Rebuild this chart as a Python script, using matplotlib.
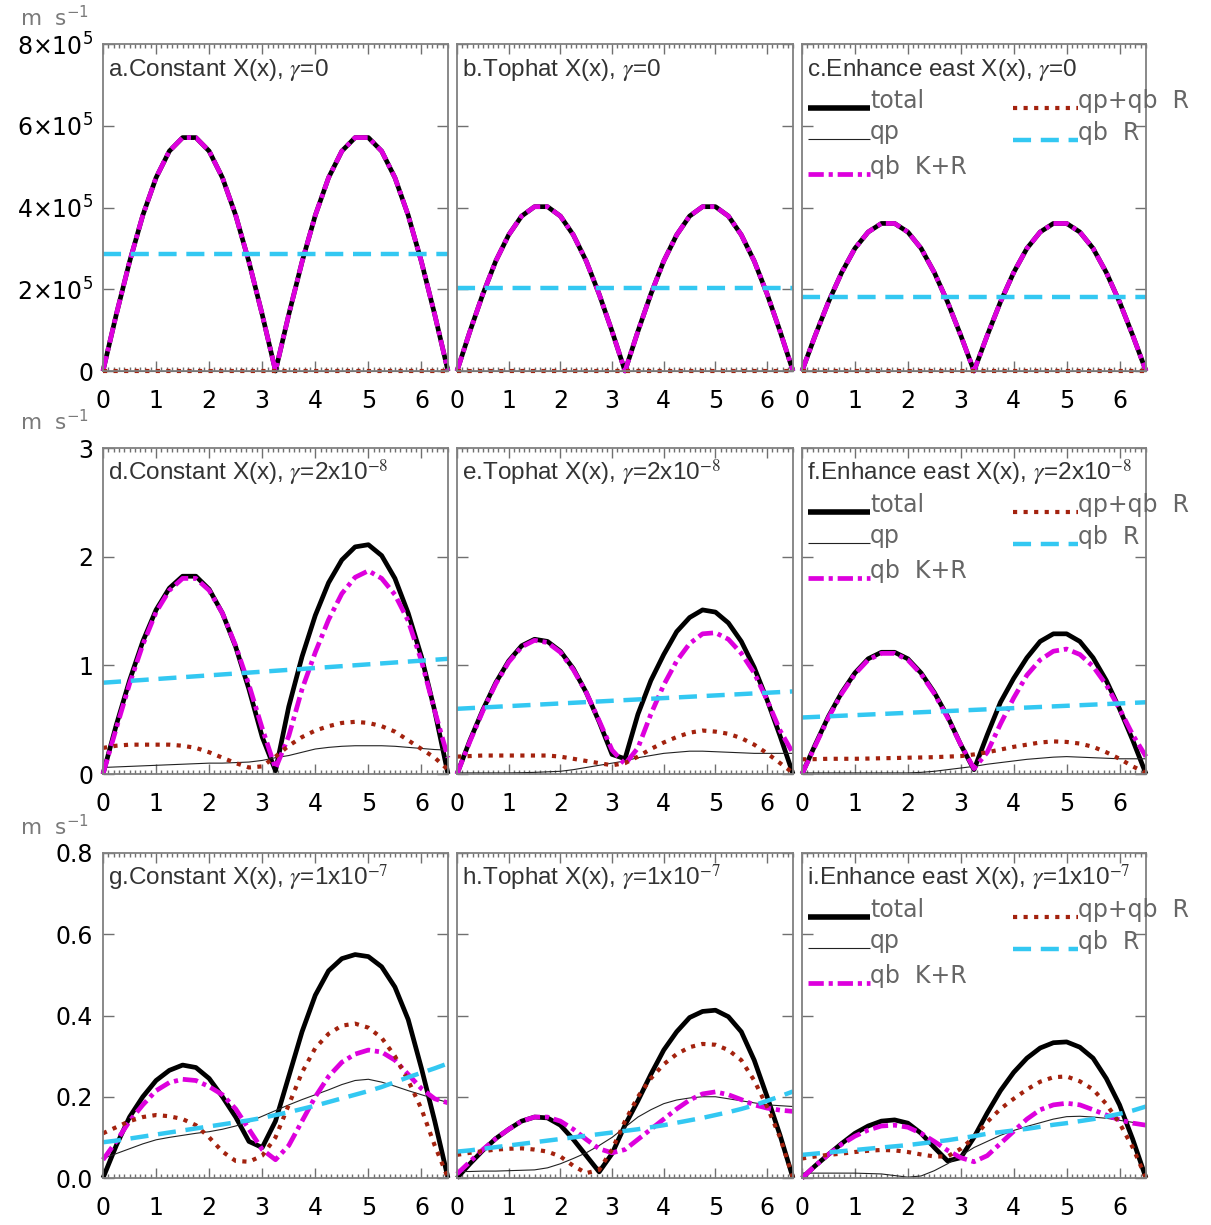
import numpy as np
import matplotlib
matplotlib.use('Agg')
import matplotlib.pyplot as plt
from matplotlib.ticker import MultipleLocator

plt.rcParams['lines.scale_dashes'] = False
plt.rcParams['font.family'] = ['DejaVu Sans']

# ---------------- data ----------------
X = np.linspace(0.0, 6.5, 27)          # sample positions (step 0.25)
X_ENDS = [0.0, 6.5]                    # straight lines: two end points
TOP_SCALE = 1e5                        # row 1 values are in units of 1e5 m/s

# row 1 : gamma = 0   (units 1e5 m s-1)
a_total = [0, 1.38, 2.67, 3.81, 4.73, 5.38, 5.71, 5.71, 5.38, 4.73, 3.81, 2.67, 1.38, 0,
           1.38, 2.67, 3.81, 4.73, 5.38, 5.71, 5.71, 5.38, 4.73, 3.81, 2.67, 1.38, 0]
a_qbKR = [0, 1.38, 2.67, 3.81, 4.73, 5.38, 5.71, 5.71, 5.38, 4.73, 3.81, 2.67, 1.38, 0,
          1.38, 2.67, 3.81, 4.73, 5.38, 5.71, 5.71, 5.38, 4.73, 3.81, 2.67, 1.38, 0]
a_qp = [0.0, 0.0]
a_dot = [0.0, 0.0]
a_qbR = [2.87, 2.87]

b_total = [0, 0.97, 1.88, 2.69, 3.33, 3.79, 4.02, 4.02, 3.79, 3.33, 2.69, 1.88, 0.97, 0,
           0.97, 1.88, 2.69, 3.33, 3.79, 4.02, 4.02, 3.79, 3.33, 2.69, 1.88, 0.97, 0]
b_qbKR = [0, 0.97, 1.88, 2.69, 3.33, 3.79, 4.02, 4.02, 3.79, 3.33, 2.69, 1.88, 0.97, 0,
          0.97, 1.88, 2.69, 3.33, 3.79, 4.02, 4.02, 3.79, 3.33, 2.69, 1.88, 0.97, 0]
b_qp = [0.0, 0.0]
b_dot = [0.0, 0.0]
b_qbR = [2.02, 2.02]

c_total = [0, 0.87, 1.69, 2.41, 3.00, 3.40, 3.61, 3.61, 3.40, 3.00, 2.41, 1.69, 0.87, 0,
           0.87, 1.69, 2.41, 3.00, 3.40, 3.61, 3.61, 3.40, 3.00, 2.41, 1.69, 0.87, 0]
c_qbKR = [0, 0.87, 1.69, 2.41, 3.00, 3.40, 3.61, 3.61, 3.40, 3.00, 2.41, 1.69, 0.87, 0,
          0.87, 1.69, 2.41, 3.00, 3.40, 3.61, 3.61, 3.40, 3.00, 2.41, 1.69, 0.87, 0]
c_qp = [0.0, 0.0]
c_dot = [0.0, 0.0]
c_qbR = [1.81, 1.81]

# row 2 : gamma = 2e-8  (m s-1)
d_total = [0, 0.45, 0.86, 1.22, 1.51, 1.71, 1.82, 1.82, 1.70, 1.48, 1.17, 0.78, 0.34, 0.03,
           0.62, 1.08, 1.46, 1.76, 1.97, 2.09, 2.11, 2.01, 1.80, 1.48, 1.08, 0.58, 0.0]
d_qbKR = [0, 0.42, 0.83, 1.19, 1.49, 1.69, 1.80, 1.80, 1.69, 1.48, 1.18, 0.82, 0.42, 0.05,
          0.35, 0.78, 1.12, 1.42, 1.66, 1.81, 1.87, 1.80, 1.65, 1.41, 1.04, 0.58, 0.15]
d_qp = [0.06, 0.065, 0.07, 0.075, 0.08, 0.085, 0.09, 0.095, 0.10, 0.10, 0.105, 0.11, 0.125, 0.15,
        0.17, 0.20, 0.23, 0.245, 0.255, 0.26, 0.26, 0.26, 0.255, 0.245, 0.235, 0.225, 0.22]
d_dot = [0.24, 0.26, 0.27, 0.27, 0.27, 0.27, 0.26, 0.24, 0.20, 0.15, 0.10, 0.06, 0.07, 0.16,
         0.26, 0.34, 0.40, 0.44, 0.47, 0.48, 0.47, 0.44, 0.39, 0.31, 0.23, 0.15, 0.04]
d_qbR = [0.84, 1.06]

e_total = [0, 0.31, 0.59, 0.84, 1.04, 1.18, 1.24, 1.22, 1.13, 0.97, 0.75, 0.48, 0.18, 0.14,
           0.55, 0.86, 1.10, 1.31, 1.44, 1.51, 1.49, 1.39, 1.22, 0.98, 0.68, 0.35, 0.0]
e_qbKR = [0, 0.30, 0.58, 0.83, 1.03, 1.17, 1.23, 1.21, 1.12, 0.96, 0.75, 0.49, 0.22, 0.09,
          0.24, 0.55, 0.82, 1.04, 1.20, 1.29, 1.30, 1.24, 1.11, 0.93, 0.68, 0.40, 0.19]
e_qp = [0.01, 0.01, 0.01, 0.01, 0.01, 0.012, 0.015, 0.02, 0.025, 0.04, 0.06, 0.08, 0.10, 0.12,
        0.15, 0.17, 0.19, 0.20, 0.21, 0.21, 0.205, 0.20, 0.195, 0.19, 0.19, 0.19, 0.19]
e_dot = [0.16, 0.165, 0.17, 0.17, 0.17, 0.17, 0.17, 0.17, 0.16, 0.14, 0.12, 0.10, 0.08, 0.10,
         0.16, 0.23, 0.29, 0.34, 0.38, 0.40, 0.39, 0.37, 0.33, 0.27, 0.19, 0.10, 0.01]
e_qbR = [0.60, 0.76]

f_total = [0, 0.27, 0.53, 0.75, 0.93, 1.06, 1.12, 1.12, 1.06, 0.93, 0.75, 0.53, 0.27, 0.04,
           0.36, 0.66, 0.88, 1.07, 1.22, 1.29, 1.29, 1.22, 1.07, 0.86, 0.60, 0.31, 0.0]
f_qbKR = [0, 0.26, 0.52, 0.74, 0.92, 1.05, 1.11, 1.11, 1.05, 0.92, 0.74, 0.52, 0.27, 0.05,
          0.20, 0.46, 0.70, 0.91, 1.05, 1.13, 1.15, 1.10, 0.99, 0.82, 0.60, 0.36, 0.16]
f_qp = [0.01, 0.01, 0.01, 0.01, 0.01, 0.01, 0.01, 0.01, 0.01, 0.015, 0.025, 0.04, 0.055, 0.07,
        0.09, 0.105, 0.12, 0.135, 0.145, 0.155, 0.16, 0.155, 0.15, 0.145, 0.14, 0.14, 0.14]
f_dot = [0.135, 0.137, 0.14, 0.14, 0.14, 0.142, 0.145, 0.147, 0.15, 0.152, 0.155, 0.16, 0.165, 0.18,
         0.20, 0.225, 0.25, 0.27, 0.29, 0.30, 0.295, 0.28, 0.25, 0.20, 0.14, 0.07, 0.01]
f_qbR = [0.52, 0.66]

# row 3 : gamma = 1e-7  (m s-1)
g_total = [0, 0.08, 0.15, 0.20, 0.24, 0.265, 0.278, 0.272, 0.245, 0.20, 0.15, 0.09, 0.075, 0.14,
           0.25, 0.36, 0.45, 0.51, 0.54, 0.55, 0.545, 0.52, 0.47, 0.39, 0.27, 0.14, 0.0]
g_qbKR = [0.045, 0.09, 0.14, 0.18, 0.215, 0.235, 0.243, 0.24, 0.225, 0.205, 0.17, 0.12, 0.07, 0.045,
          0.08, 0.14, 0.20, 0.25, 0.285, 0.305, 0.315, 0.31, 0.29, 0.255, 0.22, 0.195, 0.185]
g_qp = [0.048, 0.06, 0.072, 0.084, 0.094, 0.10, 0.105, 0.11, 0.114, 0.12, 0.128, 0.138, 0.152, 0.166,
        0.18, 0.193, 0.205, 0.217, 0.23, 0.24, 0.243, 0.236, 0.226, 0.215, 0.205, 0.195, 0.186]
g_dot = [0.11, 0.125, 0.14, 0.15, 0.155, 0.152, 0.145, 0.13, 0.10, 0.065, 0.042, 0.04, 0.055, 0.10,
         0.18, 0.26, 0.32, 0.355, 0.375, 0.38, 0.37, 0.345, 0.30, 0.24, 0.17, 0.08, 0.0]
g_qbR = [0.088, 0.092, 0.097, 0.102, 0.107, 0.112, 0.117, 0.122, 0.127, 0.132, 0.137, 0.142, 0.148, 0.155,
         0.162, 0.170, 0.178, 0.187, 0.196, 0.205, 0.214, 0.224, 0.236, 0.248, 0.259, 0.270, 0.282]

h_total = [0, 0.035, 0.068, 0.097, 0.12, 0.14, 0.15, 0.148, 0.13, 0.095, 0.055, 0.015, 0.06, 0.13,
           0.19, 0.255, 0.315, 0.36, 0.395, 0.41, 0.413, 0.397, 0.36, 0.29, 0.20, 0.105, 0.0]
h_qbKR = [0.01, 0.04, 0.07, 0.097, 0.12, 0.14, 0.15, 0.15, 0.14, 0.12, 0.095, 0.072, 0.062, 0.07,
          0.095, 0.12, 0.145, 0.17, 0.192, 0.207, 0.212, 0.205, 0.193, 0.18, 0.172, 0.167, 0.164]
h_qp = [0.016, 0.016, 0.017, 0.017, 0.018, 0.019, 0.02, 0.025, 0.035, 0.048, 0.062, 0.08, 0.10, 0.125,
        0.15, 0.168, 0.183, 0.192, 0.197, 0.20, 0.20, 0.195, 0.19, 0.185, 0.18, 0.178, 0.176]
h_dot = [0.057, 0.062, 0.066, 0.07, 0.072, 0.073, 0.07, 0.065, 0.053, 0.03, 0.012, 0.02, 0.07, 0.14,
         0.20, 0.245, 0.28, 0.305, 0.322, 0.33, 0.328, 0.315, 0.29, 0.24, 0.175, 0.10, 0.0]
h_qbR = [0.065, 0.068, 0.072, 0.076, 0.08, 0.084, 0.088, 0.092, 0.096, 0.10, 0.104, 0.108, 0.112, 0.116,
         0.12, 0.125, 0.13, 0.136, 0.142, 0.148, 0.155, 0.162, 0.17, 0.179, 0.19, 0.201, 0.213]

i_total = [0, 0.03, 0.058, 0.085, 0.11, 0.128, 0.14, 0.143, 0.135, 0.11, 0.075, 0.042, 0.05, 0.10,
           0.16, 0.215, 0.26, 0.295, 0.32, 0.333, 0.335, 0.322, 0.295, 0.245, 0.18, 0.095, 0.0]
i_qbKR = [0, 0.03, 0.058, 0.083, 0.103, 0.118, 0.128, 0.13, 0.125, 0.11, 0.09, 0.068, 0.05, 0.04,
          0.055, 0.085, 0.115, 0.145, 0.168, 0.18, 0.184, 0.18, 0.168, 0.155, 0.143, 0.135, 0.13]
i_qp = [0.012, 0.012, 0.012, 0.012, 0.012, 0.011, 0.01, 0.006, 0.002, 0.005, 0.018, 0.035, 0.055, 0.075,
        0.09, 0.105, 0.117, 0.127, 0.136, 0.145, 0.151, 0.152, 0.15, 0.147, 0.142, 0.137, 0.132]
i_dot = [0.048, 0.053, 0.057, 0.06, 0.064, 0.067, 0.069, 0.068, 0.064, 0.058, 0.053, 0.053, 0.072, 0.10,
         0.138, 0.17, 0.195, 0.218, 0.237, 0.248, 0.25, 0.238, 0.218, 0.182, 0.135, 0.075, 0.0]
i_qbR = [0.057, 0.060, 0.063, 0.066, 0.069, 0.072, 0.075, 0.078, 0.081, 0.085, 0.089, 0.093, 0.098, 0.103,
         0.109, 0.113, 0.117, 0.121, 0.126, 0.131, 0.135, 0.14, 0.145, 0.151, 0.158, 0.166, 0.176]

titles = [
    r'a.Constant X(x), $\gamma$=0', r'b.Tophat X(x), $\gamma$=0', r'c.Enhance east X(x), $\gamma$=0',
    r'd.Constant X(x), $\gamma$=2x10$^{-8}$', r'e.Tophat X(x), $\gamma$=2x10$^{-8}$',
    r'f.Enhance east X(x), $\gamma$=2x10$^{-8}$',
    r'g.Constant X(x), $\gamma$=1x10$^{-7}$', r'h.Tophat X(x), $\gamma$=1x10$^{-7}$',
    r'i.Enhance east X(x), $\gamma$=1x10$^{-7}$',
]
series_names = ['total', 'qp', 'qb  K+R', 'qp+qb  R', 'qb  R']

x_ticks = [0, 1, 2, 3, 4, 5, 6]
row_yticks = [[0, 2e5, 4e5, 6e5, 8e5], [0, 1, 2, 3], [0, 0.2, 0.4, 0.6, 0.8]]
row_ylabels = [['0', '2×10$^5$', '4×10$^5$', '6×10$^5$', '8×10$^5$'],
               ['0', '1', '2', '3'],
               ['0.0', '0.2', '0.4', '0.6', '0.8']]
row_ylim = [(0, 8e5), (0, 3), (0, 0.8)]
row_scale = [TOP_SCALE, 1.0, 1.0]

panel_data = [
    (a_total, a_qp, a_qbKR, a_dot, a_qbR), (b_total, b_qp, b_qbKR, b_dot, b_qbR),
    (c_total, c_qp, c_qbKR, c_dot, c_qbR),
    (d_total, d_qp, d_qbKR, d_dot, d_qbR), (e_total, e_qp, e_qbKR, e_dot, e_qbR),
    (f_total, f_qp, f_qbKR, f_dot, f_qbR),
    (g_total, g_qp, g_qbKR, g_dot, g_qbR), (h_total, h_qp, h_qbKR, h_dot, h_qbR),
    (i_total, i_qp, i_qbKR, i_dot, i_qbR),
]

# ---------------- styles ----------------
MAGENTA = '#dd00dd'
CYAN = '#33c8f2'
DKRED = '#a3220e'
styles = [
    dict(color='black', lw=3.4, ls='-'),
    dict(color='#222222', lw=0.8, ls='-'),
    dict(color=MAGENTA, lw=3.4, dashes=[11, 3.5, 3, 3.5]),
    dict(color=DKRED, lw=3.0, dashes=[3, 4.6]),
    dict(color=CYAN, lw=3.2, dashes=[13, 7]),
]

W, H = 1211, 1225
fig = plt.figure(figsize=(W / 100, H / 100), dpi=100)
cols = [(103, 448), (457, 793), (802, 1146)]
rows = [(44, 371), (448, 774), (853, 1178)]
FRAME = '#808080'

for r in range(3):
    y0, y1 = rows[r]
    for c in range(3):
        x0, x1 = cols[c]
        ax = fig.add_axes([x0 / W, 1 - y1 / H, (x1 - x0) / W, (y1 - y0) / H])
        k = r * 3 + c
        for ys, st in zip(panel_data[k], styles):
            xs = X if len(ys) == len(X) else X_ENDS
            ax.plot(xs, np.asarray(ys) * row_scale[r], clip_on=False, solid_capstyle='butt',
                    dash_capstyle='butt', solid_joinstyle='round', **st)
        ax.set_xlim(0, 6.5)
        ax.set_ylim(*row_ylim[r])
        ax.set_xticks(x_ticks)
        ax.set_xticklabels([str(t) for t in x_ticks])
        ax.xaxis.set_minor_locator(MultipleLocator(0.1))
        ax.set_yticks(row_yticks[r])
        if c == 0:
            ax.set_yticklabels(row_ylabels[r])
        else:
            ax.set_yticklabels([])
        ax.tick_params(axis='both', which='both', direction='in', top=True, right=True,
                       color='#707070', width=1.0)
        ax.tick_params(axis='x', which='major', length=7, pad=13, labelsize=17)
        ax.tick_params(axis='x', which='minor', length=3)
        ax.tick_params(axis='y', which='major', length=8, pad=7, labelsize=17)
        ax.tick_params(axis='y', which='minor', left=False, right=False)
        for sp in ax.spines.values():
            sp.set_color(FRAME)
            sp.set_linewidth(1.3)
        hpx = y1 - y0
        wpx = x1 - x0
        ax.text(5 / wpx, 1 - 32 / hpx, titles[k], transform=ax.transAxes, ha='left',
                va='baseline', fontsize=17.5, color='#333333', family='Liberation Sans',
                math_fontfamily='stix')
        if c == 2:
            # legend (two columns)
            left_rows = [64, 95, 130]
            right_rows = [64, 96]
            for j, yy in enumerate(left_rows):
                yf = 1 - yy / hpx
                st = dict(styles[j])
                if j == 0:
                    st['lw'] = 4.0
                ax.plot([6 / wpx, 68 / wpx], [yf, yf], transform=ax.transAxes,
                        clip_on=False, solid_capstyle='butt', dash_capstyle='butt', **st)
                ax.text(68 / wpx, yf, series_names[j], transform=ax.transAxes, ha='left',
                        va='baseline', fontsize=17, color='#666666')
            for j, yy in enumerate(right_rows):
                yf = 1 - yy / hpx
                st = styles[3 + j]
                ax.plot([211 / wpx, 276 / wpx], [yf, yf], transform=ax.transAxes,
                        clip_on=False, solid_capstyle='butt', dash_capstyle='butt', **st)
                ax.text(276 / wpx, yf, series_names[3 + j], transform=ax.transAxes,
                        ha='left', va='baseline', fontsize=17, color='#666666')
    # units label for each row
    fig.text(20 / W, 1 - (y0 - 18) / H, 'm  s$^{-1}$', ha='left', va='baseline',
             fontsize=15.5, color='#7a7a7a')

fig.savefig('out.png', dpi=100)
